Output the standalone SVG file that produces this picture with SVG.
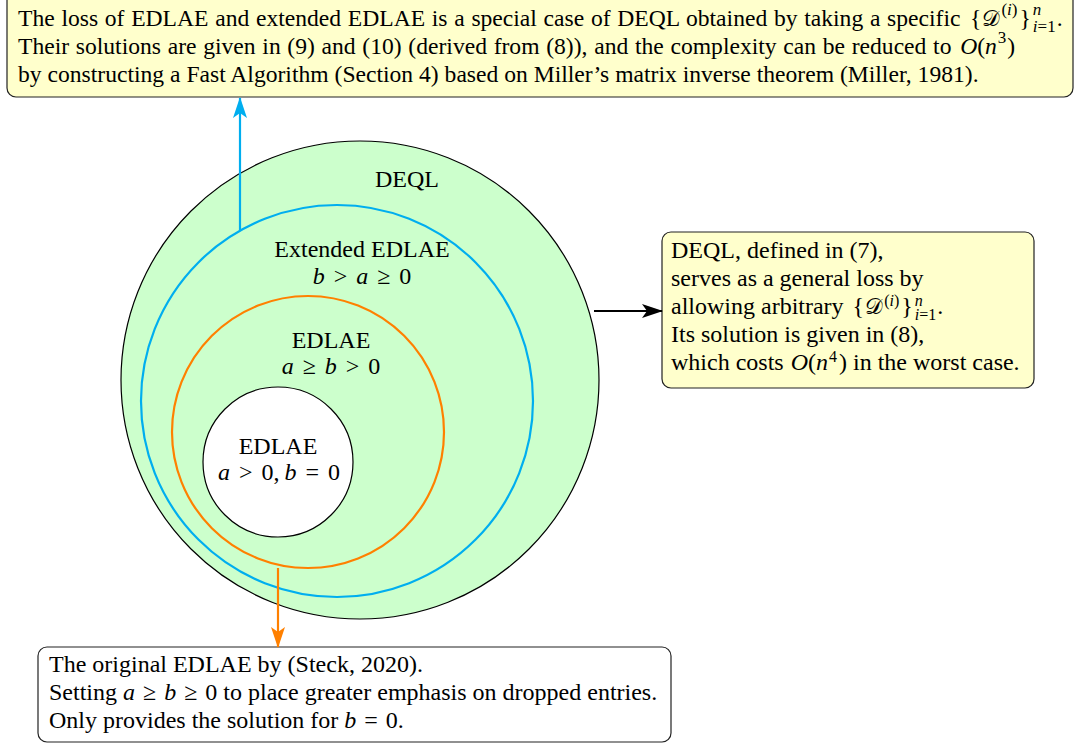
<svg xmlns="http://www.w3.org/2000/svg" width="1077" height="746" viewBox="0 0 1077 746">
<style>
.t{font-family:"Liberation Serif","Times New Roman",serif;font-size:24px;fill:#000}
.tt{font-size:23.6px}
.ws{word-spacing:0.8px}
.m{font-family:"Liberation Serif","Times New Roman",serif;font-style:italic}
.c{font-family:"DejaVu Serif","Liberation Serif",serif;font-style:normal;font-size:22px}
.s{font-size:17px;word-spacing:0}
.s2{font-size:16px;word-spacing:0}
.box{fill:#ffffcc;stroke:#222;stroke-width:1.2}
.wbox{fill:#fff;stroke:#222;stroke-width:1.2}
.mid{text-anchor:middle}
</style>
<defs>
<marker id="ahb" markerUnits="userSpaceOnUse" markerWidth="24" markerHeight="16" refX="20" refY="8" orient="auto">
<path d="M0,1 L21,8 L0,15 L5,8 Z" fill="#000"/>
</marker>
<marker id="ahc" markerUnits="userSpaceOnUse" markerWidth="24" markerHeight="16" refX="20" refY="8" orient="auto">
<path d="M0,1 L21,8 L0,15 L5,8 Z" fill="#00aeef"/>
</marker>
<marker id="aho" markerUnits="userSpaceOnUse" markerWidth="24" markerHeight="16" refX="20" refY="8" orient="auto">
<path d="M0,1 L21,8 L0,15 L5,8 Z" fill="#ff8000"/>
</marker>
</defs>

<g id="deql">
<circle cx="360" cy="380" r="239" fill="#ccffcc" stroke="#000" stroke-width="1.2"/>
<text class="t mid" x="407" y="187">DEQL</text>
</g>
<g id="extended-edlae">
<circle cx="337" cy="401" r="196" fill="none" stroke="#00aeef" stroke-width="2.2"/>
<text class="t mid" x="362" y="257">Extended EDLAE</text>
<text class="t mid" x="362" y="284"><tspan class="m">b</tspan><tspan dx="9">&gt;</tspan><tspan class="m" dx="9">a</tspan><tspan dx="9">≥</tspan><tspan dx="9">0</tspan></text>
</g>
<g id="edlae">
<circle cx="308" cy="432" r="136" fill="none" stroke="#ff8000" stroke-width="2.2"/>
<text class="t mid" x="331" y="348">EDLAE</text>
<text class="t mid" x="331" y="374"><tspan class="m">a</tspan><tspan dx="9">≥</tspan><tspan class="m" dx="9">b</tspan><tspan dx="9">&gt;</tspan><tspan dx="9">0</tspan></text>
</g>
<g id="edlae-original">
<circle cx="278" cy="462" r="75" fill="#fff" stroke="#000" stroke-width="1.2"/>
<text class="t mid" x="278" y="454">EDLAE</text>
<text class="t mid" x="279" y="480"><tspan class="m">a</tspan><tspan dx="9">&gt;</tspan><tspan dx="9">0,</tspan><tspan class="m" dx="5">b</tspan><tspan dx="9">=</tspan><tspan dx="9">0</tspan></text>
</g>

<g id="top-note">
<rect class="box" x="7" y="-12" width="1066" height="109" rx="9"/>
<text class="t tt ws" x="18" y="26">The loss of EDLAE and extended EDLAE is a special case of DEQL obtained by taking a specific <tspan dx="3">{</tspan><tspan class="c" dx="1">𝒟</tspan><tspan class="s" dy="-11" dx="1">(<tspan class="m">i</tspan>)</tspan><tspan dy="11" dx="2">}</tspan><tspan class="s m" dy="-11" dx="2">n</tspan><tspan class="s" dx="-8.5" dy="17"><tspan class="m">i</tspan>=1</tspan><tspan dy="-6" dx="1">.</tspan></text>
<text class="t tt ws" x="18" y="54">Their solutions are given in (9) and (10) (derived from (8)), and the complexity can be reduced to <tspan class="m" dx="2">O</tspan>(<tspan class="m">n</tspan><tspan class="s" dy="-11" dx="1">3</tspan><tspan dy="11" dx="1">)</tspan></text>
<text class="t tt" x="18" y="82">by constructing a Fast Algorithm (Section 4) based on Miller’s matrix inverse theorem (Miller, 1981).</text>
</g>

<g id="right-note">
<rect class="box" x="662" y="232" width="372" height="156" rx="9"/>
<text class="t" x="671" y="258">DEQL, defined in (7),</text>
<text class="t" x="671" y="286">serves as a general loss by</text>
<text class="t" x="671" y="314">allowing arbitrary <tspan dx="3">{</tspan><tspan class="c" dx="1">𝒟</tspan><tspan class="s2" dy="-8" dx="1">(<tspan class="m">i</tspan>)</tspan><tspan dy="8" dx="2">}</tspan><tspan class="s2 m" dy="-8" dx="2">n</tspan><tspan class="s2" dx="-8" dy="14"><tspan class="m">i</tspan>=1</tspan><tspan dy="-6" dx="1">.</tspan></text>
<text class="t" x="671" y="342">Its solution is given in (8),</text>
<text class="t" x="671" y="370">which costs <tspan class="m" dx="1">O</tspan>(<tspan class="m">n</tspan><tspan class="s2" dy="-8" dx="1">4</tspan><tspan dy="8" dx="2">)</tspan> in the worst case.</text>
</g>

<g id="bottom-note">
<rect class="wbox" x="38" y="647" width="633" height="95" rx="9"/>
<text class="t" x="49" y="672">The original EDLAE by (Steck, 2020).</text>
<text class="t" x="49" y="700">Setting <tspan class="m">a</tspan><tspan dx="8">≥</tspan><tspan class="m" dx="8">b</tspan><tspan dx="8">≥</tspan><tspan dx="8">0</tspan> to place greater emphasis on dropped entries.</text>
<text class="t" x="49" y="728">Only provides the solution for <tspan class="m">b</tspan><tspan dx="8">=</tspan><tspan dx="8">0</tspan>.</text>
</g>

<g id="connectors" fill="none">
<line x1="240" y1="231" x2="240" y2="98" stroke="#00aeef" stroke-width="2.2" marker-end="url(#ahc)"/>
<line x1="594" y1="311" x2="662" y2="311" stroke="#000" stroke-width="1.8" marker-end="url(#ahb)"/>
<line x1="278" y1="568" x2="278" y2="647" stroke="#ff8000" stroke-width="2.2" marker-end="url(#aho)"/>
</g>
</svg>
